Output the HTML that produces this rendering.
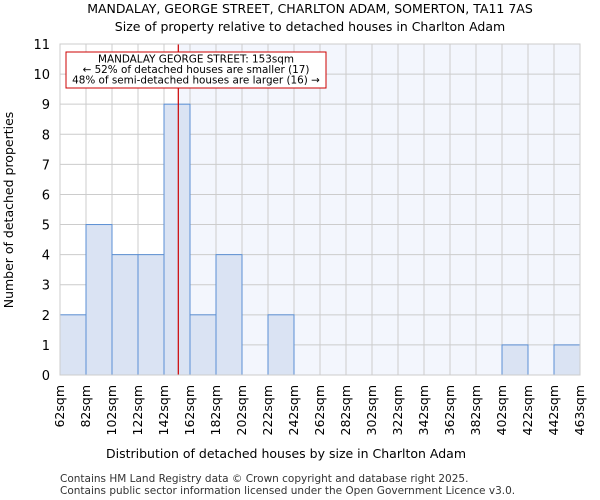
<!DOCTYPE html>
<html><head><meta charset="utf-8"><style>
body{margin:0;background:#fff;}
svg{display:block;font-family:"DejaVu Sans","Liberation Sans",sans-serif;}
</style></head><body>
<svg id="c" width="600" height="500">
<text x="310" y="13" text-anchor="middle" font-size="12.5">MANDALAY, GEORGE STREET, CHARLTON ADAM, SOMERTON, TA11 7AS</text>
<text x="310" y="31" text-anchor="middle" font-size="12.5">Size of property relative to detached houses in Charlton Adam</text>
<text x="286" y="458" text-anchor="middle" font-size="12.5">Distribution of detached houses by size in Charlton Adam</text>
<text transform="translate(13,210) rotate(-90)" text-anchor="middle" font-size="12.5">Number of detached properties</text>
<text x="60" y="482" font-size="10.5" fill="#333">Contains HM Land Registry data © Crown copyright and database right 2025.</text>
<text x="60" y="494" font-size="10.5" fill="#333">Contains public sector information licensed under the Open Government Licence v3.0.</text>
<g id="plot"></g>
</svg>
<script>
const binEdges=[62,82,102,122,142,162,182,202,222,242,262,282,302,322,342,362,382,402,422,442,463];
const counts=[2,5,4,4,9,2,4,0,2,0,0,0,0,0,0,0,0,1,0,1];
const yTicks=[0,1,2,3,4,5,6,7,8,9,10,11];
const subjectSize=153;
const X0=60,X1=580,Y0=375,Y1=44,YMAX=11;
const nb=counts.length;
function xIdx(i){return X0+i*(X1-X0)/nb;}
function xVal(v){let i=0;while(i<nb-1&&v>binEdges[i+1])i++;return xIdx(i)+(v-binEdges[i])/(binEdges[i+1]-binEdges[i])*(X1-X0)/nb;}
function y(v){return Y0-v*(Y0-Y1)/YMAX;}
const NS="http://www.w3.org/2000/svg";
const g=document.getElementById('plot');
function mk(t,a,p){const e=document.createElementNS(NS,t);for(const k in a)e.setAttribute(k,a[k]);(p||g).appendChild(e);return e;}
const sx=xVal(subjectSize);
let bg=mk('rect',{x:sx,y:Y1,width:X1-sx,height:Y0-Y1,fill:'#f3f6fd'});


for(let i=0;i<=nb;i++){const l=mk('line',{x1:xIdx(i),x2:xIdx(i),y1:Y1,y2:Y0,stroke:'#cccccc','stroke-width':1});

}
yTicks.forEach(t=>{const l=mk('line',{x1:X0,x2:X1,y1:y(t),y2:y(t),stroke:'#cccccc','stroke-width':1});


const tx=mk('text',{x:X0-10,y:y(t)+5,'text-anchor':'end','font-size':'13'});tx.textContent=t;

});
counts.forEach((c,i)=>{if(c<=0)return;const r=mk('rect',{x:xIdx(i),y:y(c),width:xIdx(i+1)-xIdx(i),height:Y0-y(c),fill:'#dae3f3',stroke:'#5b8fd4','stroke-width':1});

});
binEdges.forEach((b,i)=>{const xx=xIdx(i);const tx=mk('text',{transform:'translate('+(xx+4)+','+(Y0+10)+') rotate(-90)','text-anchor':'end','font-size':'12.5'});tx.textContent=b+'sqm';

});
const rl=mk('line',{x1:sx,x2:sx,y1:Y1,y2:Y0,stroke:'#cc0000','stroke-width':1.2});


const box=mk('rect',{x:66,y:52,width:260,height:36,fill:'#fff',stroke:'#cc0000','stroke-width':1});


['MANDALAY GEORGE STREET: 153sqm','← 52% of detached houses are smaller (17)','48% of semi-detached houses are larger (16) →'].forEach((s,i)=>{const t=mk('text',{x:196,y:62.5+i*10.5,'text-anchor':'middle','font-size':'10.4'});t.textContent=s;

});
const ax=mk('rect',{x:X0,y:Y1,width:X1-X0,height:Y0-Y1,fill:'none',stroke:'#cccccc'});


</script>
</body></html>
